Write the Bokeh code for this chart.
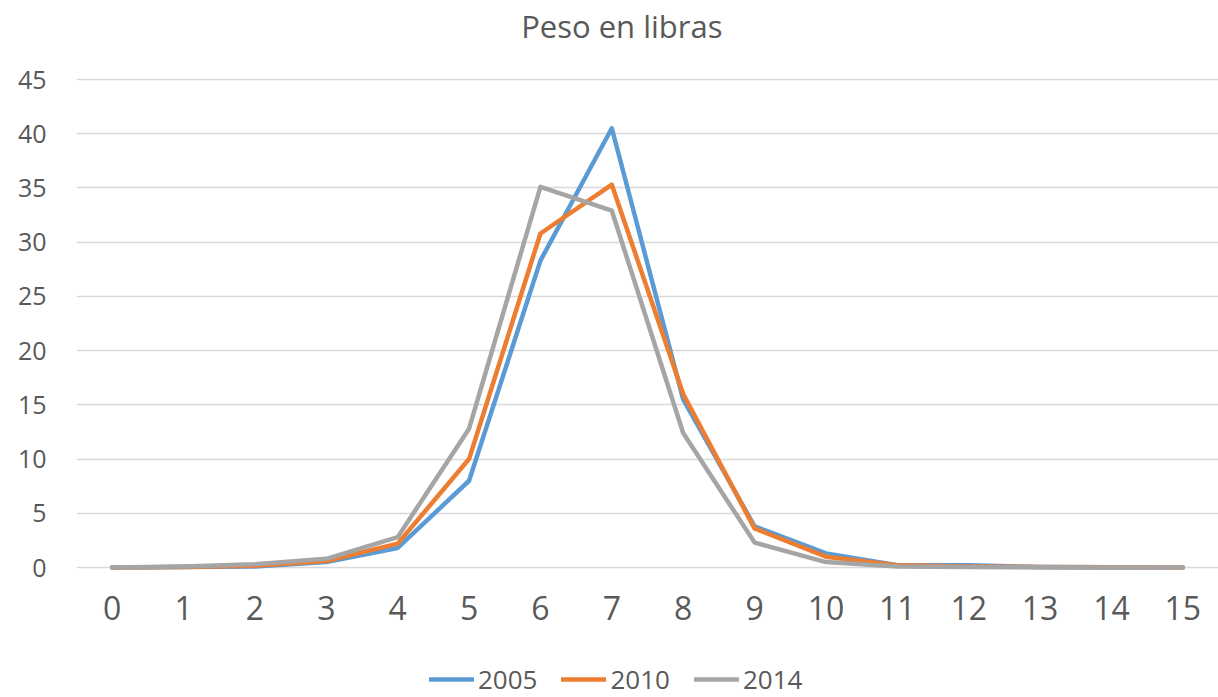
from bokeh.plotting import figure
from bokeh.models import Range1d, Legend, LegendItem, FixedTicker, Label
from bokeh.embed import file_html
from bokeh.resources import INLINE

categories = list(range(16))
tick_labels = [str(c) for c in categories]
series_names = ["2005", "2010", "2014"]
v2005 = [0.0, 0.05, 0.1, 0.5, 1.8, 8.0, 28.3, 40.5, 15.5, 3.8, 1.3, 0.2, 0.2, 0.05, 0.02, 0.0]
v2010 = [0.0, 0.05, 0.15, 0.6, 2.2, 10.0, 30.8, 35.3, 16.0, 3.6, 1.0, 0.2, 0.1, 0.05, 0.02, 0.0]
v2014 = [0.0, 0.1, 0.3, 0.8, 2.8, 12.8, 35.1, 32.9, 12.4, 2.3, 0.5, 0.1, 0.05, 0.02, 0.01, 0.0]
colors = ["#5B9BD5", "#ED7D31", "#A5A5A5"]
title_text = "Peso en libras"

FONT = "Open Sans"
TXT = "#595959"

# pixel layout: frame spans whole height; value 0 at y=567px, 45 at y=79px
PX_PER_UNIT = (567 - 79) / 45.0
H = 697
y_lo = -(H - 567) / PX_PER_UNIT
y_hi = 45 + 79 / PX_PER_UNIT

p = figure(
    width=1218, height=H,
    min_border_left=76, min_border_right=0, min_border_top=0, min_border_bottom=0,
    x_range=Range1d(-0.5, 15.5), y_range=Range1d(y_lo, y_hi),
    output_backend="svg", toolbar_location=None,
)
p.outline_line_color = None
p.background_fill_color = "white"
p.border_fill_color = "white"

renderers = []
for name, vals, col in zip(series_names, [v2005, v2010, v2014], colors):
    r = p.line(categories, vals, line_color=col, line_width=4.5, line_cap="round", line_join="round")
    renderers.append((name, r))

# title (as label placed above the 45 gridline)
p.add_layout(Label(
    x=7.14, y=45 + (79 - 25) / PX_PER_UNIT, text=title_text,
    text_font=FONT, text_font_size="31px", text_color=TXT,
    text_align="center", text_baseline="middle",
))

# axes
p.xaxis.fixed_location = 0
p.xaxis.ticker = FixedTicker(ticks=categories)
p.xaxis.major_label_overrides = {c: t for c, t in zip(categories, tick_labels)}
p.xaxis.axis_line_color = None
p.xaxis.major_tick_line_color = None
p.xaxis.minor_tick_line_color = None
p.xaxis.major_label_text_font = FONT
p.xaxis.major_label_text_font_size = "32px"
p.xaxis.major_label_text_color = TXT
p.xaxis.major_label_standoff = 22

p.yaxis.ticker = FixedTicker(ticks=list(range(0, 50, 5)))
p.yaxis.axis_line_color = None
p.yaxis.major_tick_line_color = None
p.yaxis.minor_tick_line_color = None
p.yaxis.major_label_text_font = FONT
p.yaxis.major_label_text_font_size = "25px"
p.yaxis.major_label_text_color = TXT
p.yaxis.major_label_standoff = 24

p.xgrid.grid_line_color = None
p.ygrid.grid_line_color = "#D9D9D9"
p.ygrid.grid_line_width = 1.3

legend = Legend(
    items=[LegendItem(label=n, renderers=[r]) for n, r in renderers],
    orientation="horizontal", location=(353, 0),
    label_text_font=FONT, label_text_font_size="26px", label_text_color=TXT,
    glyph_width=45, glyph_height=20, label_height=20, label_standoff=4, spacing=24,
    border_line_color=None, background_fill_alpha=0, padding=0, margin=0,
)
p.add_layout(legend, "center")

open("out.html", "w").write(file_html(p, INLINE))
